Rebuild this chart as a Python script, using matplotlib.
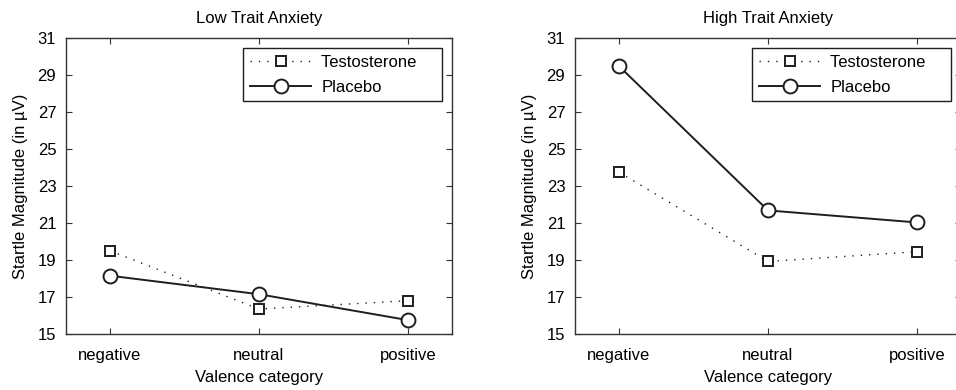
import numpy as np
import matplotlib.pyplot as plt

plt.rcParams['font.family'] = ['Liberation Sans', 'DejaVu Sans']

categories = ['negative', 'neutral', 'positive']
low_testo = [19.5, 16.35, 16.8]
low_placebo = [18.15, 17.15, 15.75]
high_testo = [23.75, 18.92, 19.45]
high_placebo = [29.48, 21.68, 21.03]
yticks = [15, 17, 19, 21, 23, 25, 27, 29, 31]

fig = plt.figure(figsize=(9.56, 3.9), dpi=100)
ax1 = fig.add_axes([66/956, 56/390, 386/956, 296/390])
ax2 = fig.add_axes([575/956, 56/390, 386/956, 296/390])

fs = 12
col = '#1e1e1e'
for ax, t, p, title in [(ax1, low_testo, low_placebo, 'Low Trait Anxiety'),
                        (ax2, high_testo, high_placebo, 'High Trait Anxiety')]:
    x = np.arange(len(categories))
    ax.plot(x, t, linestyle=(0, (1, 5)), color=col, lw=1.0, marker='s', ms=7.5,
            mfc='white', mec=col, mew=1.4, label='Testosterone    ')
    ax.plot(x, p, linestyle='-', color=col, lw=1.4, marker='o', ms=10,
            mfc='white', mec=col, mew=1.4, label='Placebo')
    ax.set_xlim(-0.295, 2.295)
    ax.set_ylim(15, 31)
    ax.set_yticks(yticks)
    ax.set_xticks(x)
    ax.set_xticklabels(categories, fontsize=fs)
    ax.tick_params(axis='y', labelsize=fs, pad=7)
    ax.tick_params(axis='x', pad=10)
    ax.tick_params(direction='in', top=True, right=True, length=4, color='#333333')
    for s in ax.spines.values():
        s.set_color('#333333')
        s.set_linewidth(1.0)
    ax.set_title(title, fontsize=fs, pad=11)
    ax.set_xlabel('Valence category', fontsize=fs, labelpad=5)
    ax.set_ylabel('Startle Magnitude (in µV)', fontsize=fs, labelpad=7)
    leg = ax.legend(loc='upper right', fontsize=fs, frameon=True, fancybox=False,
                    framealpha=1, edgecolor=col, handlelength=3.7,
                    borderaxespad=0.6, borderpad=0.4, labelspacing=0.6,
                    handletextpad=0.6)
    leg.get_frame().set_linewidth(1.0)

fig.savefig('out.png', dpi=100)
